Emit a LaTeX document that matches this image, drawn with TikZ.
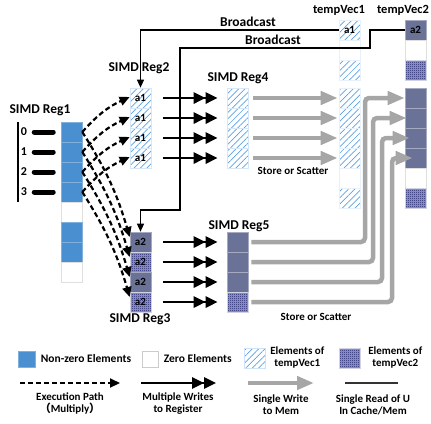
\documentclass[tikz,border=0pt]{standalone}
\usepackage{fontspec}
\setmainfont{Carlito}
\newfontfamily\cjkfont{Noto Sans CJK SC}
\usepackage{tikz}
\usetikzlibrary{arrows.meta, patterns, patterns.meta, positioning}

\definecolor{nzblue}{HTML}{4A8FCF}
\definecolor{hatchblue}{HTML}{5AA0E6}
\definecolor{slate}{HTML}{6A7298}
\definecolor{navy}{HTML}{1A1F6E}
\definecolor{wgray}{HTML}{A6A6A6}

\pgfdeclarepattern{
  name=finecheck,
  type=uncolored,
  bottom left={\pgfpoint{0pt}{0pt}},
  top right={\pgfpoint{2pt}{2pt}},
  tile size={\pgfpoint{2pt}{2pt}},
  code={
    \pgfpathrectangle{\pgfpointorigin}{\pgfpoint{1pt}{1pt}}
    \pgfpathrectangle{\pgfpoint{1pt}{1pt}}{\pgfpoint{1pt}{1pt}}
    \pgfusepath{fill}
  }
}

\begin{document}
\begin{tikzpicture}[x=1pt,y=-1pt,
  font=\bfseries\fontsize{11}{12}\selectfont,
  cell/.style={minimum width=21pt,minimum height=20pt,inner sep=0pt,line width=0.6pt},
  nz/.style={cell,fill=nzblue,draw=nzblue!70!white},
  zero/.style={cell,fill=white,draw=gray!25},
  tvone/.style={cell,draw=hatchblue!25,pattern={Lines[angle=45,distance=4.5pt,line width=0.7pt]},pattern color=hatchblue},
  tvtwo/.style={cell,draw=navy!20,preaction={fill=navy!45},pattern=finecheck,pattern color=navy},
  tvdark/.style={cell,draw=slate!60,fill=slate},
  reglabel/.style={font=\bfseries\fontsize{13.5}{14}\selectfont},
  execpath/.style={line width=2.2pt,dash pattern=on 5pt off 3pt,-{Triangle[length=10pt,width=9pt]}},
  multiwrite/.style={line width=2.6pt,-{Triangle[length=12pt,width=11pt]Triangle[length=12pt,width=11pt]}},
  singlewrite/.style={wgray,line width=4.5pt,rounded corners=4pt,-{Triangle[length=17pt,width=13pt]}},
  bcast/.style={line width=1.2pt,-{Triangle[length=8pt,width=7pt]}},
  idxbar/.style={line width=5pt,line cap=round}]
  \useasboundingbox (0,0) rectangle (431,423);

  % ---- SIMD Reg1 (sparse row) ----
  \node[reglabel] (lblreg1) at (40,110) {SIMD Reg1};
  \foreach \i/\s in {1/nz,2/nz,3/nz,4/nz,5/zero,6/nz,7/nz,8/zero} {
    \node[\s] (reg1-\i) at (71.5,112+20*\i) {};
  }
  \draw[line width=1.3pt] (18,122) -- (18,202);
  \foreach \i in {0,...,3} {
    \node[inner sep=0pt,font=\bfseries\fontsize{12}{13}\selectfont] (idx\i) at (24,132+20*\i) {\i};
    \draw[idxbar] ([xshift=7pt]idx\i.east) -- ++(19,0);
  }

  % ---- SIMD Reg2 / Reg3 (broadcast values) ----
  \node[reglabel] (lblreg2) at (139,68) {SIMD Reg2};
  \node[reglabel] (lblreg3) at (140,319) {SIMD Reg3};
  \foreach \i in {1,...,4} {
    \node[tvone] (reg2-\i) at (140.5,78+20*\i) {a1};
  }
  \foreach \i/\s in {1/tvdark,2/tvtwo,3/tvdark,4/tvtwo} {
    \node[\s] (reg3-\i) at (140.5,222+20*\i) {a2};
  }

  % ---- SIMD Reg4 / Reg5 ----
  \node[reglabel] (lblreg4) at (238,78) {SIMD Reg4};
  \node[reglabel] (lblreg5) at (239,226) {SIMD Reg5};
  \foreach \i in {1,...,4} {
    \node[tvone] (reg4-\i) at (237.5,78+20*\i) {};
  }
  \foreach \i/\s in {1/tvdark,2/tvdark,3/tvdark,4/tvtwo} {
    \node[\s] (reg5-\i) at (237.5,222+20*\i) {};
  }

  % ---- tempVec1 / tempVec2 ----
  \node[font=\bfseries\fontsize{12.5}{13}\selectfont] (lbltv1) at (339,10) {tempVec1};
  \node[font=\bfseries\fontsize{12.5}{13}\selectfont] (lbltv2) at (403,10) {tempVec2};
  \foreach \i/\y/\s in {1/30/tvone,2/50/zero,3/70/tvone,4/98/tvone,5/118/tvone,
                        6/138/tvone,7/158/tvone,8/178/zero,9/198/tvone} {
    \node[\s,draw=hatchblue!15] (tv1-\i) at (349.5,\y) {};
  }
  \foreach \i/\y/\s in {1/30/tvdark,2/50/zero,3/70/tvtwo,4/98/tvdark,5/118/tvdark,
                        6/138/tvdark,7/158/tvdark,8/178/zero,9/198/tvtwo} {
    \node[\s] (tv2-\i) at (415.5,\y) {};
  }
  \node at (tv1-1) {a1};
  \node at (tv2-1) {a2};

  % ---- broadcast lines ----
  \draw[bcast] (tv1-1.west) -| (reg2-1.north);
  \node[reglabel] (lblbc1) at (248,22) {Broadcast};
  \coordinate (bcturn1) at (370,48);
  \coordinate (bcturn2) at (180,210);
  \draw[bcast] (tv2-1.west) -| (bcturn1) -| (bcturn2) -| (reg3-1.north);
  \node[reglabel] (lblbc2) at (273,40) {Broadcast};

  % ---- execution path (multiply) ----
  \foreach \i in {1,...,4} {
    \draw[execpath] (reg1-\i.east) to[bend left=12] ([yshift=1pt]reg2-\i.west);
    \draw[execpath] (reg1-\i.east) to[bend left=8] ([yshift=5pt]reg3-\i.west);
  }

  % ---- multiple writes to register ----
  \foreach \i in {1,...,4} {
    \draw[multiwrite] ([xshift=12pt]reg2-\i.east) -- ([xshift=-9pt]reg4-\i.west);
    \draw[multiwrite] ([xshift=12pt]reg3-\i.east) -- ([xshift=-9pt]reg5-\i.west);
  }

  % ---- single write to mem ----
  \foreach \i/\t in {1/4,2/5,3/6,4/7} {
    \draw[singlewrite] ([xshift=5pt]reg4-\i.east) -- ([xshift=-1pt]tv1-\t.west);
  }
  \node (lblstore1) at (293,171) {Store or Scatter};
  \foreach \i/\t/\vx/\ex in {1/4/365/0,2/5/373/2,3/6/382/5,4/7/392/8} {
    \coordinate (up\i) at (\vx,0);
    \draw[singlewrite] ([xshift=3pt]reg5-\i.east) -| (up\i |- tv2-\t.west)
      -- ([xshift=\ex pt]tv2-\t.west);
  }
  \node (lblstore2) at (316,317) {Store or Scatter};

  % ---- legend ----
  \node[nz,minimum width=17pt,minimum height=16pt] (legnz) at (26.5,359) {};
  \node[right=2pt of legnz,font=\bfseries\fontsize{11.5}{12}\selectfont] (legnztxt) {Non-zero Elements};
  \node[zero,draw=gray!40,minimum width=16pt,minimum height=16pt] (legz) at (150,359) {};
  \node[right=2pt of legz,font=\bfseries\fontsize{11.5}{12}\selectfont] (legztxt) {Zero Elements};
  \node[tvone,draw=hatchblue!30,minimum height=20pt] (legtv1) at (255,358) {};
  \node[align=center,right=1pt of legtv1] (legtv1txt) {Elements of\\tempVec1};
  \node[tvtwo,minimum height=20pt] (legtv2) at (350,358) {};
  \node[align=center,right=4pt of legtv2] (legtv2txt) {Elements of\\tempVec2};

  \coordinate (legexs) at (20,383);
  \coordinate (legexe) at (120,383);
  \draw[execpath] (legexs) -- (legexe);
  \node[align=center] (legextxt) at (70,403) {Execution Path\\{\cjkfont （}Multiply{\cjkfont ）}};
  \coordinate (legmws) at (141,383);
  \coordinate (legmwe) at (216,383);
  \draw[multiwrite] (legmws) -- (legmwe);
  \node[align=center] (legmwtxt) at (178,404) {Multiple Writes\\to Register};
  \coordinate (legsws) at (248,383);
  \coordinate (legswe) at (314,383);
  \draw[singlewrite] (legsws) -- (legswe);
  \node[align=center] (legswtxt) at (281,405) {Single Write\\to Mem};
  \coordinate (legrds) at (345,383);
  \coordinate (legrde) at (398,383);
  \draw[line width=1.3pt,black!80] (legrds) -- (legrde);
  \node[align=center] (legrdtxt) at (373,405) {Single Read of U\\In Cache/Mem};
\end{tikzpicture}
\end{document}
